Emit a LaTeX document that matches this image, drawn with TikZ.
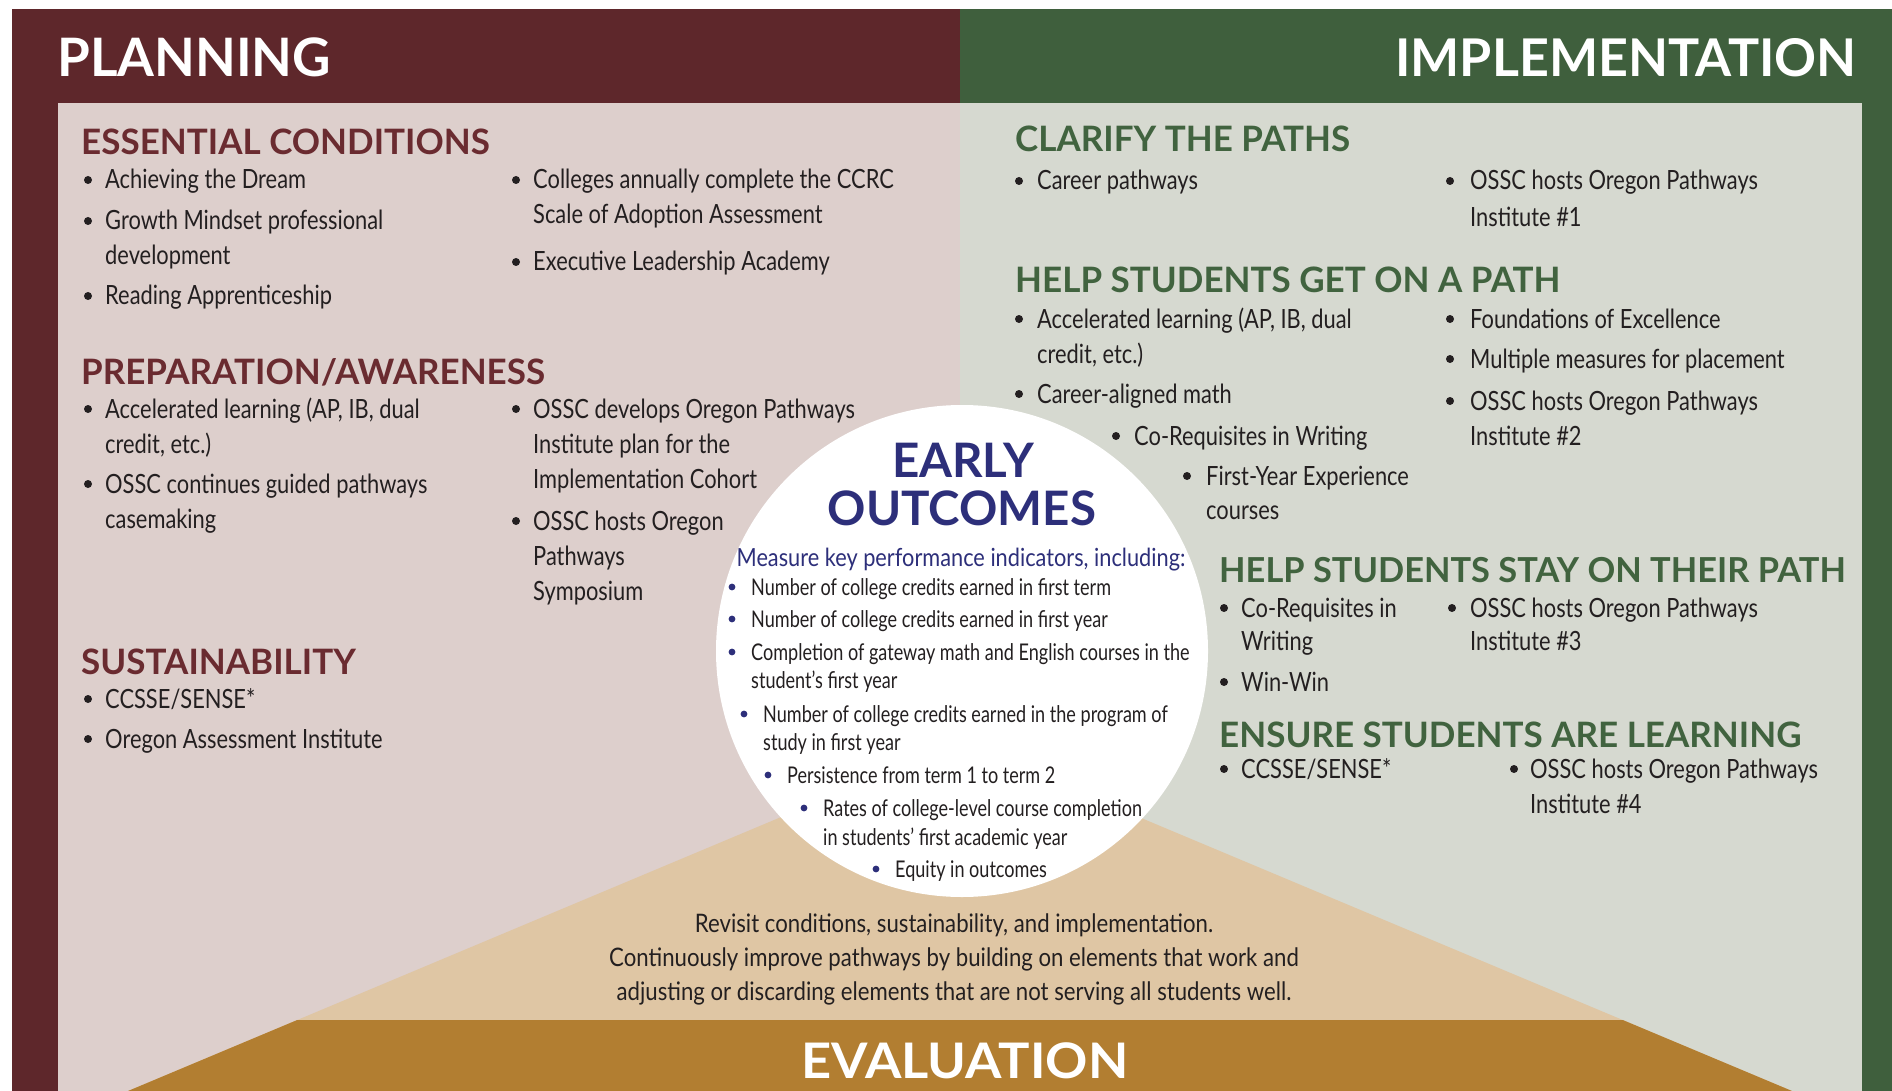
\documentclass[tikz,border=0pt]{standalone}
\usepackage{fontspec}
\setmainfont{Lato}
\newfontfamily\bodyf{Lato}[FakeStretch=0.825]
\newfontfamily\circf{Lato}[FakeStretch=0.785]
\newfontfamily\revf{Lato}[FakeStretch=0.87]
\newfontfamily\widef{Lato}[FakeStretch=1.07]
\definecolor{hdred}{HTML}{5E272B}
\definecolor{redtxt}{HTML}{6A2B30}
\definecolor{pinkbg}{HTML}{DDCFCC}
\definecolor{hdgreen}{HTML}{3F5F3D}
\definecolor{greentxt}{HTML}{41633F}
\definecolor{greybg}{HTML}{D6D9D0}
\definecolor{tanlight}{HTML}{DFC6A4}
\definecolor{gold}{HTML}{B27E31}
\definecolor{navy}{HTML}{2D2F7A}
\definecolor{txt}{HTML}{231F20}
\tikzset{
  body/.style={anchor=base west, inner sep=0pt, text=txt, font=\bodyf\fontsize{26.5}{30}\selectfont},
  ctext/.style={anchor=base west, inner sep=0pt, text=txt, font=\circf\fontsize{23}{26}\selectfont},
  revtext/.style={anchor=base, inner sep=0pt, text=txt, font=\revf\fontsize{25.5}{28}\selectfont},
  redhead/.style={anchor=base west, inner sep=0pt, text=redtxt, font=\bfseries\fontsize{35}{40}\selectfont},
  greenhead/.style={anchor=base west, inner sep=0pt, text=greentxt, font=\bfseries\fontsize{35}{40}\selectfont},
  banner/.style={inner sep=0pt, text=white, font=\bfseries\fontsize{53}{60}\selectfont},
  outc/.style={anchor=base, inner sep=0pt, text=navy, font=\bfseries\fontsize{47.5}{52}\selectfont},
}
% name, bullet x, text x, baseline y, text
\newcommand\bitem[5]{\fill[txt] (#2,#4-9) circle (4);
  \node[body] (#1) at (#3,#4) {#5};}
\newcommand\bcont[4]{\node[body] (#1) at (#2,#3) {#4};}
\newcommand\citem[5]{\fill[navy] (#2,#4-8) circle (3.4);
  \node[ctext] (#1) at (#3,#4) {#5};}
\newcommand\ccont[4]{\node[ctext] (#1) at (#2,#3) {#4};}
\begin{document}
\begin{tikzpicture}[x=1pt,y=-1pt]
\useasboundingbox (0,0) rectangle (1892,1091);
\fill[white] (0,0) rectangle (1892,1091);
% frames and panels
\fill[hdred] (12,9) rectangle (960,1091);
\fill[hdgreen] (960,9) rectangle (1892,1091);
\fill[pinkbg] (58,103) rectangle (960,1091);
\fill[greybg] (960,103) rectangle (1862,1091);
% evaluation triangle
\fill[tanlight] (960,742) -- (1792,1091) -- (128,1091) -- cycle;
\begin{scope}
  \clip (0,1020) rectangle (1892,1091);
  \fill[gold] (960,742) -- (1792,1091) -- (128,1091) -- cycle;
\end{scope}
% early outcomes circle
\fill[white] (962,651) circle (246);

% banners
\node[banner, anchor=base west] (plan) at (57,77) {PLANNING};
\node[banner, anchor=base east, font=\bfseries\fontsize{52}{60}\selectfont] (impl) at (1857,77) {IMPLEMENTATION};
\node[banner, anchor=base, font=\widef\bfseries\fontsize{49}{54}\selectfont] (eval) at (965,1078) {EVALUATION};

% ---------- PLANNING ----------
\node[redhead] (ec) at (81,155) {ESSENTIAL CONDITIONS};
\bitem{ec1}{88}{105}{189}{Achieving the Dream}
\bitem{ec2}{88}{105}{230}{Growth Mindset professional}
\bcont{ec2b}{105}{265}{development}
\bitem{ec3}{88}{105}{305}{Reading Apprenticeship}
\bitem{ec4}{516}{533}{189}{Colleges annually complete the CCRC}
\bcont{ec4b}{533}{224}{Scale of Adoption Assessment}
\bitem{ec5}{516}{533}{271}{Executive Leadership Academy}

\node[redhead] (pa) at (81,384) {PREPARATION/AWARENESS};
\bitem{pa1}{88}{105}{418}{Accelerated learning (AP, IB, dual}
\bcont{pa1b}{105}{453}{credit, etc.)}
\bitem{pa2}{88}{105}{493}{OSSC continues guided pathways}
\bcont{pa2b}{105}{528}{casemaking}
\bitem{pa3}{516}{533}{418}{OSSC develops Oregon Pathways}
\bcont{pa3b}{533}{453}{Institute plan for the}
\bcont{pa3c}{533}{488}{Implementation Cohort}
\bitem{pa4}{516}{533}{530}{OSSC hosts Oregon}
\bcont{pa4b}{533}{565}{Pathways}
\bcont{pa4c}{533}{600}{Symposium}

\node[redhead] (su) at (81,674) {SUSTAINABILITY};
\bitem{su1}{88}{105}{708}{CCSSE/SENSE*}
\bitem{su2}{88}{105}{748}{Oregon Assessment Institute}

% ---------- IMPLEMENTATION ----------
\node[greenhead] (cp) at (1015,152) {CLARIFY THE PATHS};
\bitem{cp1}{1019}{1037}{190}{Career pathways}
\bitem{cp2}{1450}{1470}{190}{OSSC hosts Oregon Pathways}
\bcont{cp2b}{1470}{227}{Institute \#1}

\node[greenhead] (gp) at (1015,293) {HELP STUDENTS GET ON A PATH};
\bitem{gp1}{1019}{1037}{328}{Accelerated learning (AP, IB, dual}
\bcont{gp1b}{1037}{363}{credit, etc.)}
\bitem{gp2}{1019}{1037}{403}{Career-aligned math}
\bitem{gp3}{1116}{1134}{445}{Co-Requisites in Writing}
\bitem{gp4}{1187}{1206}{485}{First-Year Experience}
\bcont{gp4b}{1206}{519}{courses}
\bitem{gp5}{1450}{1470}{328}{Foundations of Excellence}
\bitem{gp6}{1450}{1470}{368}{Multiple measures for placement}
\bitem{gp7}{1450}{1470}{410}{OSSC hosts Oregon Pathways}
\bcont{gp7b}{1470}{445}{Institute \#2}

\node[greenhead, font=\bfseries\fontsize{34.4}{40}\selectfont] (sp) at (1219,582) {HELP STUDENTS STAY ON THEIR PATH};
\bitem{sp1}{1224}{1241}{617}{Co-Requisites in}
\bcont{sp1b}{1241}{650}{Writing}
\bitem{sp2}{1224}{1241}{691}{Win-Win}
\bitem{sp3}{1452}{1470}{617}{OSSC hosts Oregon Pathways}
\bcont{sp3b}{1470}{650}{Institute \#3}

\node[greenhead] (el) at (1219,747) {ENSURE STUDENTS ARE LEARNING};
\bitem{el1}{1224}{1241}{778}{CCSSE/SENSE*}
\bitem{el2}{1514}{1530}{778}{OSSC hosts Oregon Pathways}
\bcont{el2b}{1530}{813}{Institute \#4}

% ---------- EARLY OUTCOMES ----------
\node[outc] (early) at (963,477) {EARLY};
\node[outc] (outcomes) at (962,525) {OUTCOMES};
\node[anchor=base, inner sep=0pt, text=navy, font=\revf\fontsize{25}{28}\selectfont] (kpi) at (961,566) {Measure key performance indicators, including:};
\citem{k1}{732}{751}{595}{Number of college credits earned in first term}
\citem{k2}{732}{751}{627}{Number of college credits earned in first year}
\citem{k3}{732}{751}{660}{Completion of gateway math and English courses in the}
\ccont{k3b}{751}{688}{student’s first year}
\citem{k4}{744}{763}{722}{Number of college credits earned in the program of}
\ccont{k4b}{763}{750}{study in first year}
\citem{k5}{768}{787}{783}{Persistence from term 1 to term 2}
\citem{k6}{804}{823}{816}{Rates of college-level course completion}
\ccont{k6b}{823}{845}{in students’ first academic year}
\citem{k7}{876}{895}{877}{Equity in outcomes}

% ---------- EVALUATION text ----------
\node[revtext] (rv1) at (954,932) {Revisit conditions, sustainability, and implementation.};
\node[revtext] (rv2) at (954,966) {Continuously improve pathways by building on elements that work and};
\node[revtext] (rv3) at (954,1000) {adjusting or discarding elements that are not serving all students well.};
\end{tikzpicture}
\end{document}
